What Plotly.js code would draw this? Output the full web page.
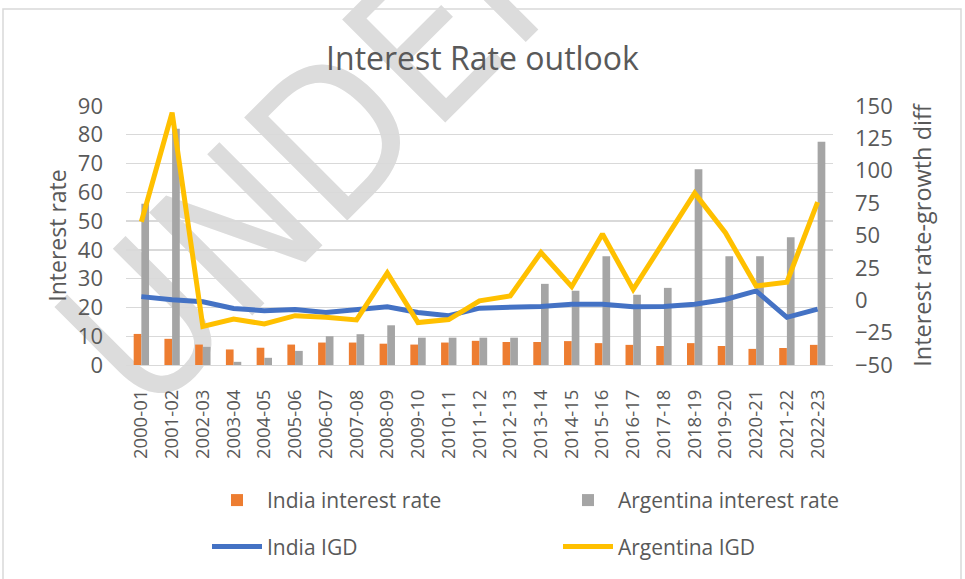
<!DOCTYPE html>
<html>
<head>
<meta charset="utf-8">
<script src="https://cdn.plot.ly/plotly-3.0.1.min.js"></script>
<style>html,body{margin:0;padding:0;background:#fff;}#chart{width:965px;height:579px;}</style>
</head>
<body>
<div id="chart"></div>
<script>
const years = ["2000-01","2001-02","2002-03","2003-04","2004-05","2005-06","2006-07","2007-08","2008-09","2009-10","2010-11","2011-12","2012-13","2013-14","2014-15","2015-16","2016-17","2017-18","2018-19","2019-20","2020-21","2021-22","2022-23"];
const indiaRate = [10.8,9.1,7.1,5.4,6.0,7.1,7.8,7.8,7.4,7.1,7.8,8.4,8.0,8.0,8.3,7.6,7.0,6.6,7.6,6.6,5.6,5.9,7.0];
const argentinaRate = [56.0,82.1,6.3,1.1,2.5,4.9,10.0,10.7,13.8,9.5,9.5,9.5,9.5,28.2,25.8,37.8,24.4,26.8,68.0,37.8,37.8,44.4,77.6];
const indiaIGD = [2.8,0.3,-1.2,-6.3,-8.1,-7.1,-9.4,-7.6,-5.0,-9.4,-11.9,-6.1,-5.5,-4.8,-3.0,-3.0,-5.0,-4.8,-3.0,0.6,7.2,-13.2,-6.8];
const argentinaIGD = [60.6,144.9,-20.3,-14.5,-18.3,-11.9,-13.2,-15.2,21.1,-17.2,-14.9,-0.4,3.4,36.9,10.5,51.1,8.4,45.3,82.7,52.2,11.0,14.0,75.8];
const leftTicks = [0,10,20,30,40,50,60,70,80,90];
const rightTicks = [-50,-25,0,25,50,75,100,125,150];

const FONT = "Open Sans, Noto Sans, sans-serif";
const TXT = "#595959";

const traces = [
  {type:"bar", name:"India interest rate", x:years, y:indiaRate, marker:{color:"#ED7D31"}, legend:"legend"},
  {type:"bar", name:"Argentina interest rate", x:years, y:argentinaRate, marker:{color:"#A5A5A5"}, legend:"legend"},
  {type:"scatter", mode:"lines", name:"India IGD", x:years, y:indiaIGD, yaxis:"y2", line:{color:"#4472C4", width:5}, legend:"legend2"},
  {type:"scatter", mode:"lines", name:"Argentina IGD", x:years, y:argentinaIGD, yaxis:"y2", line:{color:"#FFC000", width:5}, legend:"legend2"}
];

const layout = {
  width:965, height:579,
  margin:{l:126, r:132, t:106, b:211},
  paper_bgcolor:"#ffffff", plot_bgcolor:"rgba(0,0,0,0)",
  font:{family:FONT, color:TXT, size:20},
  title:{text:"Interest Rate outlook", font:{family:FONT, size:32, color:TXT}, x:0.5, xanchor:"center", y:1-59/579, yanchor:"middle", yref:"container"},
  barmode:"group", bargap:0.5, bargroupgap:0,
  xaxis:{type:"category", tickangle:-90, tickfont:{size:18.5, color:TXT}, showgrid:false, showline:true, linecolor:"#D9D9D9", linewidth:1.3, ticks:"", ticklabelstandoff:16, fixedrange:true},
  yaxis:{range:[0,90], tickvals:leftTicks, showgrid:true, gridcolor:"#D9D9D9", gridwidth:1.3, zeroline:false, ticks:"", ticklabelstandoff:22, tickfont:{size:22, color:TXT},
         title:{text:"Interest rate", font:{size:23, color:TXT}, standoff:4}},
  yaxis2:{range:[-50,150], tickvals:rightTicks, overlaying:"y", side:"right", showgrid:false, zeroline:false, ticks:"", ticklabelstandoff:21, tickfont:{size:22, color:TXT},
          title:{text:"Interest rate-growth diff", font:{size:23.5, color:TXT}, standoff:22}},
  legend:{orientation:"h", x:(207-126)/707, xanchor:"left", y:(368-505)/262, yanchor:"middle", entrywidth:286, font:{size:21, color:TXT}, bgcolor:"rgba(0,0,0,0)", itemwidth:50},
  legend2:{orientation:"h", x:(207-126)/707, xanchor:"left", y:(368-552)/262, yanchor:"middle", entrywidth:286, font:{size:21, color:TXT}, bgcolor:"rgba(0,0,0,0)", itemwidth:50},
  shapes:[
    {type:"rect", xref:"paper", yref:"paper", x0:(3-126)/707, x1:(961-126)/707, y0:(368-600)/262, y1:(368-8)/262, line:{color:"#D9D9D9", width:1.5}, fillcolor:"rgba(0,0,0,0)", layer:"below"},
    {type:"rect", xref:"paper", yref:"paper", x0:(305-126)/707, x1:(325-126)/707, y0:(368-145)/262, y1:(368-125)/262, line:{width:0}, fillcolor:"rgba(0,0,0,0)", layer:"below",
     label:{text:"UNDER", textangle:-45, textposition:"middle center", font:{family:"DejaVu Sans Condensed, sans-serif", size:200, color:"#DCDCDC"}}}
  ]
};

Plotly.newPlot("chart", traces, layout, {displayModeBar:false, staticPlot:true});
</script>
</body>
</html>
